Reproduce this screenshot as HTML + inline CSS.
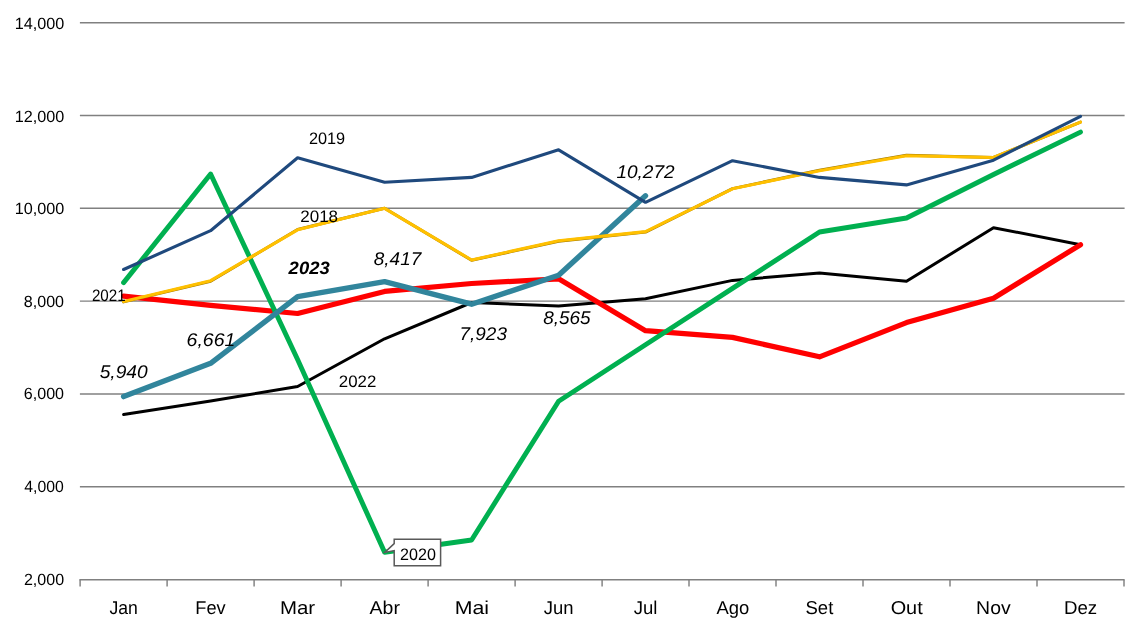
<!DOCTYPE html>
<html lang="pt"><head><meta charset="utf-8"><title>Chart</title>
<style>
html,body{margin:0;padding:0;background:#fff;}
body{width:1140px;height:627px;overflow:hidden;font-family:"Liberation Sans",sans-serif;}
svg{display:block}
text{font-family:"Liberation Sans",sans-serif;fill:#000;text-rendering:geometricPrecision;}
.ax{font-size:16.2px}
.mo{font-size:18.6px}
.sl{font-size:16.6px}
.dl{font-size:18.4px;font-style:italic}
.bl{font-size:17.8px;font-style:italic;font-weight:bold}
</style></head><body>
<svg width="1140" height="627" viewBox="0 0 1140 627">
<rect width="1140" height="627" fill="#fff"/>
<g stroke="#808080" stroke-width="1.45" fill="none">
<line x1="79.9" y1="22.70" x2="1124.6" y2="22.70"/>
<line x1="79.9" y1="115.50" x2="1124.6" y2="115.50"/>
<line x1="79.9" y1="208.30" x2="1124.6" y2="208.30"/>
<line x1="79.9" y1="301.10" x2="1124.6" y2="301.10"/>
<line x1="79.9" y1="393.90" x2="1124.6" y2="393.90"/>
<line x1="79.9" y1="486.70" x2="1124.6" y2="486.70"/>
<line x1="79.4" y1="579.65" x2="1124.6" y2="579.65"/>
<line x1="80.1" y1="579.7" x2="80.1" y2="586.6"/>
<line x1="167.1" y1="579.7" x2="167.1" y2="586.6"/>
<line x1="254.1" y1="579.7" x2="254.1" y2="586.6"/>
<line x1="341.1" y1="579.7" x2="341.1" y2="586.6"/>
<line x1="428.1" y1="579.7" x2="428.1" y2="586.6"/>
<line x1="515.1" y1="579.7" x2="515.1" y2="586.6"/>
<line x1="602.1" y1="579.7" x2="602.1" y2="586.6"/>
<line x1="689.0" y1="579.7" x2="689.0" y2="586.6"/>
<line x1="776.0" y1="579.7" x2="776.0" y2="586.6"/>
<line x1="863.0" y1="579.7" x2="863.0" y2="586.6"/>
<line x1="950.0" y1="579.7" x2="950.0" y2="586.6"/>
<line x1="1037.0" y1="579.7" x2="1037.0" y2="586.6"/>
<line x1="1124.0" y1="579.7" x2="1124.0" y2="586.6"/>
</g>
<g fill="none" stroke-linejoin="round" stroke-linecap="round">
<polyline points="123.6,414.6 210.6,401 297.6,386.5 384.6,338.8 471.6,302.5 558.6,306 645.5,298.8 732.5,280.4 819.5,272.9 906.5,281.3 993.5,227.7 1080.5,244.7" stroke="#000000" stroke-width="3.0"/>
<polyline points="123.6,296.1 210.6,305.3 297.6,313.5 384.6,291.4 471.6,283.5 558.6,278.8 645.5,330.7 732.5,337.4 819.5,356.8 906.5,322.6 993.5,298.2 1080.5,244.7" stroke="#FF0000" stroke-width="5.2"/>
<polyline points="123.6,282.6 210.6,174 297.6,359.5 384.6,552.3 471.6,540 558.6,401.2 645.5,344.8 732.5,288.4 819.5,232 906.5,218 993.5,174.5 1080.5,132.1" stroke="#00B050" stroke-width="4.9"/>
<polyline points="123.6,396.6 210.6,363.3 297.6,296.7 384.6,281.7 471.6,304.2 558.6,275.2 645.5,195.8" stroke="#31859C" stroke-width="5.4"/>
<polyline points="123.6,301.9 210.6,281.2 297.6,229.5 384.6,208.3 471.6,260.3 558.6,241.2 645.5,232.1 732.5,188.60000000000002 819.5,170.2 906.5,155.3 993.5,157.5 1080.5,122.1" stroke="#9a7400" stroke-width="3.0"/>
<polyline points="123.6,301.4 210.6,280.7 297.6,229.8 384.6,208.3 471.6,260 558.6,240.7 645.5,231.6 732.5,188.8 819.5,170.7 906.5,155.8 993.5,157.5 1080.5,122.1" stroke="#FFC000" stroke-width="3.1"/>
<polyline points="123.6,269.5 210.6,230.7 297.6,157.7 384.6,182.3 471.6,177.4 558.6,149.8 645.5,202.3 732.5,160.7 819.5,177.4 906.5,184.9 993.5,160.2 1080.5,116.3" stroke="#1F497D" stroke-width="3.1"/>
</g>
<path d="M394.2 539.2H440.6V565.8H394.2V550.6L384.8 552.4L394.2 543.6Z" fill="#fff" stroke="#595959" stroke-width="1.5" stroke-linejoin="miter"/>
<text class="ax" x="14.69" y="29" textLength="49.54" lengthAdjust="spacingAndGlyphs">14,000</text>
<text class="ax" x="14.69" y="122" textLength="49.54" lengthAdjust="spacingAndGlyphs">12,000</text>
<text class="ax" x="14.69" y="214" textLength="49.54" lengthAdjust="spacingAndGlyphs">10,000</text>
<text class="ax" x="23.82" y="307" textLength="40.21" lengthAdjust="spacingAndGlyphs">8,000</text>
<text class="ax" x="23.77" y="399" textLength="40.26" lengthAdjust="spacingAndGlyphs">6,000</text>
<text class="ax" x="24.29" y="492" textLength="39.50" lengthAdjust="spacingAndGlyphs">4,000</text>
<text class="ax" x="23.92" y="585" textLength="40.15" lengthAdjust="spacingAndGlyphs">2,000</text>
<text class="mo" x="109.49" y="614" textLength="28.36" lengthAdjust="spacingAndGlyphs">Jan</text>
<text class="mo" x="195.33" y="614" textLength="30.34" lengthAdjust="spacingAndGlyphs">Fev</text>
<text class="mo" x="279.99" y="614" textLength="35.17" lengthAdjust="spacingAndGlyphs">Mar</text>
<text class="mo" x="369.62" y="614" textLength="30.33" lengthAdjust="spacingAndGlyphs">Abr</text>
<text class="mo" x="454.71" y="614" textLength="34.31" lengthAdjust="spacingAndGlyphs">Mai</text>
<text class="mo" x="543.76" y="614" textLength="29.74" lengthAdjust="spacingAndGlyphs">Jun</text>
<text class="mo" x="633.74" y="614" textLength="23.70" lengthAdjust="spacingAndGlyphs">Jul</text>
<text class="mo" x="716.52" y="614" textLength="32.80" lengthAdjust="spacingAndGlyphs">Ago</text>
<text class="mo" x="805.49" y="614" textLength="27.80" lengthAdjust="spacingAndGlyphs">Set</text>
<text class="mo" x="890.66" y="614" textLength="32.06" lengthAdjust="spacingAndGlyphs">Out</text>
<text class="mo" x="976.12" y="614" textLength="34.56" lengthAdjust="spacingAndGlyphs">Nov</text>
<text class="mo" x="1063.95" y="614" textLength="33.24" lengthAdjust="spacingAndGlyphs">Dez</text>
<text class="sl" x="308.90" y="144" textLength="36.27" lengthAdjust="spacingAndGlyphs">2019</text>
<text class="sl" x="300.20" y="222" textLength="37.89" lengthAdjust="spacingAndGlyphs">2018</text>
<text class="sl" x="91.92" y="301" textLength="33.78" lengthAdjust="spacingAndGlyphs">2021</text>
<text class="sl" x="338.76" y="387" textLength="37.54" lengthAdjust="spacingAndGlyphs">2022</text>
<text class="sl" x="400.04" y="560" textLength="35.89" lengthAdjust="spacingAndGlyphs">2020</text>
<text class="bl" x="288.64" y="274" textLength="41.03" lengthAdjust="spacingAndGlyphs">2023</text>
<text class="dl" x="99.67" y="378" textLength="47.97" lengthAdjust="spacingAndGlyphs">5,940</text>
<text class="dl" x="186.62" y="346" textLength="48.68" lengthAdjust="spacingAndGlyphs">6,661</text>
<text class="dl" x="373.84" y="265" textLength="47.38" lengthAdjust="spacingAndGlyphs">8,417</text>
<text class="dl" x="459.57" y="340" textLength="47.37" lengthAdjust="spacingAndGlyphs">7,923</text>
<text class="dl" x="543.28" y="324" textLength="47.40" lengthAdjust="spacingAndGlyphs">8,565</text>
<text class="dl" x="616.41" y="178" textLength="58.21" lengthAdjust="spacingAndGlyphs">10,272</text>
</svg></body></html>
